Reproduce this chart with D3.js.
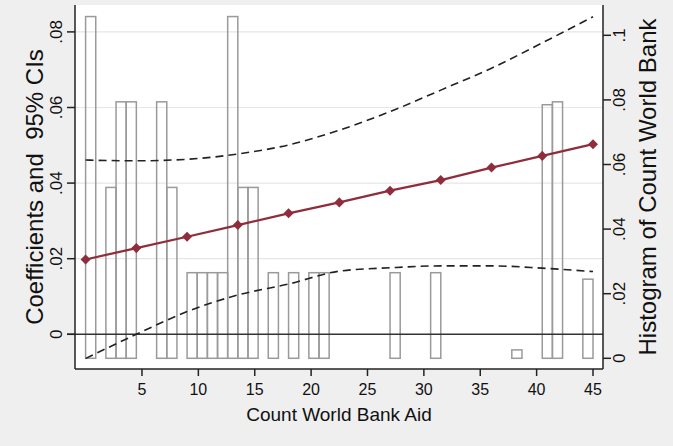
<!DOCTYPE html>
<html>
<head>
<meta charset="utf-8">
<script src="https://cdn.jsdelivr.net/npm/d3@7"></script>
<style>
html,body{margin:0;padding:0;background:#efefef;}
svg{display:block;font-family:"Liberation Sans",Arial,sans-serif;}
text{white-space:pre;}
</style>
</head>
<body>
<svg id="chart" width="673" height="446"></svg>
<script>
// ---- data ----
const xPoints = [0, 4.5, 9, 13.5, 18, 22.5, 27, 31.5, 36, 40.5, 45];
const coef    = [0.0198, 0.0228, 0.0258, 0.0289, 0.0320, 0.0349, 0.0380, 0.0408, 0.0441, 0.0472, 0.0503];
const ciUpper = [0.0461, 0.0459, 0.0463, 0.0477, 0.0501, 0.0540, 0.0589, 0.0646, 0.0704, 0.0771, 0.0840];
const ciLower = [-0.0064, 0.0000, 0.0060, 0.0104, 0.0133, 0.0167, 0.0176, 0.0181, 0.0181, 0.0175, 0.0166];

const binWidth = 0.9;
const binLeft = [0, 1.8, 2.7, 3.6, 6.3, 7.2, 9.0, 9.9, 10.8, 11.7, 12.6, 13.5, 14.4, 16.2, 18.0, 19.8, 20.7, 27.0, 30.6, 37.8, 40.5, 41.4, 44.1];
const density = [0.1058, 0.0529, 0.0794, 0.0794, 0.0794, 0.0529, 0.0265, 0.0265, 0.0265, 0.0265, 0.1058, 0.0529, 0.0529, 0.0265, 0.0265, 0.0265, 0.0265, 0.0265, 0.0265, 0.0026, 0.0785, 0.0794, 0.0245];

const xTicks = [5, 10, 15, 20, 25, 30, 35, 40, 45];
const yLeftTicks = [0, 0.02, 0.04, 0.06, 0.08];
const yRightTicks = [0, 0.02, 0.04, 0.06, 0.08, 0.1];
const xTitle = "Count World Bank Aid";
const yLeftTitle = "Coefficients and  95% CIs";
const yRightTitle = "Histogram of Count World Bank";

// ---- layout ----
const plot = {left: 75, right: 603, top: 5, bottom: 369};
const svg = d3.select("#chart");

const x = d3.scaleLinear().domain([0, 45]).range([85.6, 593]);
const yL = d3.scaleLinear().domain([0, 0.08]).range([334.3, 31.9]);
const yR = d3.scaleLinear().domain([0, 0.1]).range([358.3, 35.3]);
const fmt = v => v === 0 ? "0" : String(+v.toFixed(2)).replace(/^0/, "");

svg.append("rect").attr("width", 673).attr("height", 446).attr("fill", "#efefef");
svg.append("rect").attr("x", plot.left).attr("y", plot.top)
  .attr("width", plot.right - plot.left).attr("height", plot.bottom - plot.top).attr("fill", "#fff");

// gridlines
svg.append("g").selectAll("line").data(yLeftTicks.filter(d => d !== 0)).join("line")
  .attr("x1", plot.left).attr("x2", plot.right)
  .attr("y1", d => yL(d)).attr("y2", d => yL(d))
  .attr("stroke", "#e6e6e6").attr("stroke-width", 1.2);

// histogram bars
const bins = binLeft.map((b, i) => ({x0: b, x1: b + binWidth, d: density[i]}));
svg.append("g").selectAll("rect").data(bins).join("rect")
  .attr("x", d => x(d.x0)).attr("width", d => x(d.x1) - x(d.x0))
  .attr("y", d => yR(d.d)).attr("height", d => yR(0) - yR(d.d))
  .attr("fill", "none").attr("stroke", "#9a9a9a").attr("stroke-width", 1.5);

// zero line
svg.append("line").attr("x1", plot.left - 8).attr("x2", plot.right)
  .attr("y1", yL(0)).attr("y2", yL(0)).attr("stroke", "#333").attr("stroke-width", 1.5);

// CI lines
const ciLine = d3.line().x(d => x(d[0])).y(d => yL(d[1])).curve(d3.curveMonotoneX);
[ciUpper, ciLower].forEach(arr => {
  svg.append("path").datum(xPoints.map((v, i) => [v, arr[i]]))
    .attr("d", ciLine).attr("fill", "none").attr("stroke", "#222")
    .attr("stroke-width", 1.6).attr("stroke-dasharray", "8,5");
});

// coefficient line
const red = "#8f2d3c";
const pts = xPoints.map((v, i) => [v, coef[i]]);
svg.append("path").datum(pts)
  .attr("d", d3.line().x(d => x(d[0])).y(d => yL(d[1])))
  .attr("fill", "none").attr("stroke", red).attr("stroke-width", 2.2);
svg.append("g").selectAll("path").data(pts).join("path")
  .attr("d", d3.symbol(d3.symbolDiamond2, 64))
  .attr("transform", d => `translate(${x(d[0])},${yL(d[1])})`)
  .attr("fill", red);

// axes lines
const axisColor = "#222";
svg.append("line").attr("x1", plot.left).attr("x2", plot.left).attr("y1", plot.top).attr("y2", plot.bottom)
  .attr("stroke", axisColor).attr("stroke-width", 1.5);
svg.append("line").attr("x1", plot.right).attr("x2", plot.right).attr("y1", plot.top).attr("y2", plot.bottom)
  .attr("stroke", axisColor).attr("stroke-width", 1.5);
svg.append("line").attr("x1", plot.left).attr("x2", plot.right).attr("y1", plot.bottom).attr("y2", plot.bottom)
  .attr("stroke", axisColor).attr("stroke-width", 1.5);

// x ticks
const gx = svg.append("g");
gx.selectAll("line").data(xTicks).join("line")
  .attr("x1", d => x(d)).attr("x2", d => x(d)).attr("y1", plot.bottom).attr("y2", plot.bottom + 7)
  .attr("stroke", axisColor).attr("stroke-width", 1.5);
gx.selectAll("text").data(xTicks).join("text")
  .attr("x", d => x(d)).attr("y", 395).attr("text-anchor", "middle")
  .attr("font-size", 16).attr("fill", "#111").text(d => d);
svg.append("text").attr("x", (plot.left + plot.right) / 2 + 0).attr("y", 421)
  .attr("text-anchor", "middle").attr("font-size", 19).attr("fill", "#111").text(xTitle);

// left ticks
const gl = svg.append("g");
gl.selectAll("line").data(yLeftTicks).join("line")
  .attr("x1", plot.left - 8).attr("x2", plot.left).attr("y1", d => yL(d)).attr("y2", d => yL(d))
  .attr("stroke", axisColor).attr("stroke-width", 1.5);
gl.selectAll("text").data(yLeftTicks).join("text")
  .attr("transform", d => `translate(62,${yL(d)}) rotate(-90)`)
  .attr("text-anchor", "middle").attr("font-size", 17).attr("fill", "#111").text(fmt);
svg.append("text").attr("transform", `translate(43,${(plot.top + plot.bottom) / 2}) rotate(-90)`)
  .attr("text-anchor", "middle").attr("font-size", 24).attr("fill", "#111").text(yLeftTitle);

// right ticks
const gr = svg.append("g");
gr.selectAll("line").data(yRightTicks).join("line")
  .attr("x1", plot.right).attr("x2", plot.right + 8).attr("y1", d => yR(d)).attr("y2", d => yR(d))
  .attr("stroke", axisColor).attr("stroke-width", 1.5);
gr.selectAll("text").data(yRightTicks).join("text")
  .attr("transform", d => `translate(625,${yR(d)}) rotate(-90)`)
  .attr("text-anchor", "middle").attr("font-size", 17).attr("fill", "#111").text(fmt);
svg.append("text").attr("transform", `translate(656,${(plot.top + plot.bottom) / 2}) rotate(-90)`)
  .attr("text-anchor", "middle").attr("font-size", 24).attr("fill", "#111").text(yRightTitle);
</script>
</body>
</html>
